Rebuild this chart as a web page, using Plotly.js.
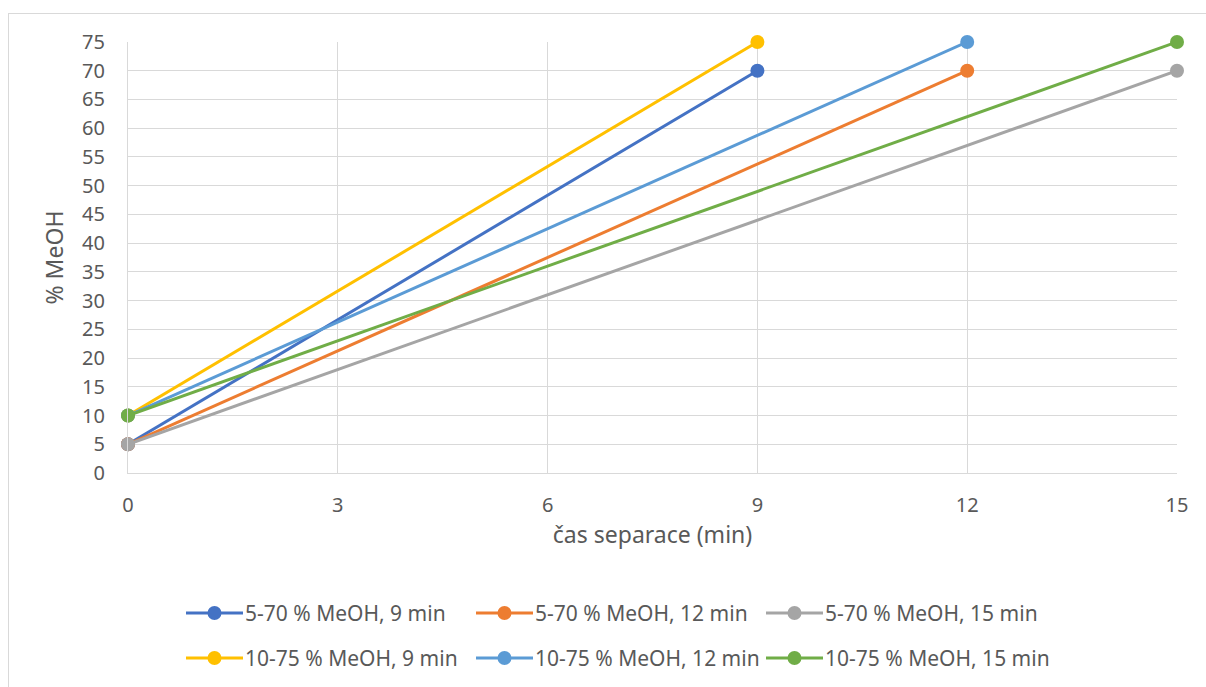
<!DOCTYPE html>
<html>
<head>
<meta charset="utf-8">
<script src="https://cdn.plot.ly/plotly-3.0.1.min.js"></script>
<style>
  html, body { margin: 0; padding: 0; background: #ffffff; }
  #wrap { position: relative; width: 1206px; height: 687px; overflow: hidden; }
  #chart { position: absolute; left: 0; top: 0; width: 1206px; height: 687px; }
  #frame { position: absolute; left: 8px; top: 13px; width: 1300px; height: 800px;
           border-left: 1px solid #d9d9d9; border-top: 1px solid #d9d9d9; pointer-events: none; }
</style>
</head>
<body>
<div id="wrap">
  <div id="chart"></div>
  <div id="frame"></div>
</div>
<script>
// Gradient programmes: start and end point of each methanol gradient
const seriesNames = [
  "5-70 % MeOH, 9 min",
  "5-70 % MeOH, 12 min",
  "5-70 % MeOH, 15 min",
  "10-75 % MeOH, 9 min",
  "10-75 % MeOH, 12 min",
  "10-75 % MeOH, 15 min"
];
const seriesTime = [
  [0, 9],
  [0, 12],
  [0, 15],
  [0, 9],
  [0, 12],
  [0, 15]
];
const seriesMeOH = [
  [5, 70],
  [5, 70],
  [5, 70],
  [10, 75],
  [10, 75],
  [10, 75]
];
const seriesColors = ["#4472C4", "#ED7D31", "#A5A5A5", "#FFC000", "#5B9BD5", "#70AD47"];
const xTicks = [0, 3, 6, 9, 12, 15];

// Plot-area geometry in pixels
const W = 1206, H = 687;
const M = { l: 128, r: 29, t: 42, b: 214 };
const plotW = W - M.l - M.r, plotH = H - M.t - M.b;
const px2x = p => (p - M.l) / plotW;
const py2y = p => (H - M.b - p) / plotH;

const FONT = "Noto Sans, Open Sans, sans-serif";
const TXT = "#595959";

const traces = seriesNames.map((name, i) => ({
  type: "scatter",
  mode: "lines+markers",
  name: name,
  x: seriesTime[i],
  y: seriesMeOH[i],
  line: { color: seriesColors[i], width: 3 },
  marker: { color: seriesColors[i], size: 14 },
  cliponaxis: false,
  showlegend: false,
  hoverinfo: "x+y+name"
}));

// Legend drawn as shapes + annotations, two rows of three entries
const legCols = [186, 476, 766];
const legRows = [613, 658];
const lineLen = 57;
const shapes = [];
const annotations = [];
seriesNames.forEach((name, i) => {
  const cx = legCols[i % 3];
  const cy = legRows[Math.floor(i / 3)];
  shapes.push({
    type: "line", xref: "paper", yref: "paper",
    x0: px2x(cx), x1: px2x(cx + lineLen), y0: py2y(cy), y1: py2y(cy),
    line: { color: seriesColors[i], width: 3 }
  });
  shapes.push({
    type: "circle", xref: "paper", yref: "paper",
    xsizemode: "pixel", ysizemode: "pixel",
    xanchor: px2x(cx + lineLen / 2), yanchor: py2y(cy),
    x0: -7, x1: 7, y0: -7, y1: 7,
    fillcolor: seriesColors[i], line: { width: 0 }
  });
  annotations.push({
    xref: "paper", yref: "paper",
    x: px2x(cx + lineLen), y: py2y(cy),
    xanchor: "left", yanchor: "middle",
    text: name, showarrow: false,
    font: { family: FONT, size: 21, color: TXT }
  });
});

const layout = {
  width: W, height: H,
  margin: M,
  paper_bgcolor: "rgba(0,0,0,0)",
  plot_bgcolor: "#ffffff",
  font: { family: FONT, color: TXT },
  xaxis: {
    range: [0, 15],
    tickvals: xTicks,
    ticktext: xTicks.map(String),
    showgrid: true, gridcolor: "#d9d9d9", gridwidth: 1,
    showline: true, linecolor: "#d9d9d9", linewidth: 1,
    zeroline: false, ticks: "",
    ticklabelstandoff: 14,
    tickfont: { family: FONT, size: 20, color: TXT },
    title: { text: "čas separace (min)", font: { family: FONT, size: 23, color: TXT }, standoff: 8 }
  },
  yaxis: {
    range: [0, 75],
    dtick: 5, tick0: 0,
    showgrid: true, gridcolor: "#d9d9d9", gridwidth: 1,
    showline: true, linecolor: "#d9d9d9", linewidth: 1,
    zeroline: false, ticks: "",
    ticklabelstandoff: 18,
    tickfont: { family: FONT, size: 20, color: TXT },
    title: { text: "% MeOH", font: { family: FONT, size: 23, color: TXT }, standoff: 12 }
  },
  shapes: shapes,
  annotations: annotations,
  showlegend: false
};

Plotly.newPlot("chart", traces, layout, { displayModeBar: false, staticPlot: true });
</script>
</body>
</html>
